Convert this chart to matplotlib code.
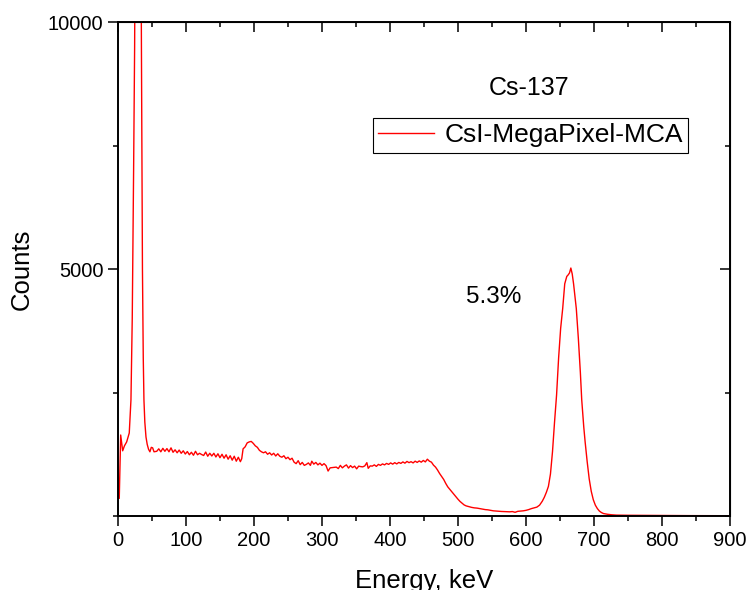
import matplotlib.pyplot as plt
from matplotlib.ticker import MultipleLocator

plt.rcParams['font.family'] = ['Liberation Sans', 'DejaVu Sans']

# spectrum (keV, counts)
energy = [1.9, 4.0, 6.9, 9.5, 12.8, 16.6, 19.1, 21, 23, 24.5, 26, 28, 30, 32, 33.5, 34.5,
          36, 37.2, 38.2, 39.5, 41.2, 43, 45, 47, 49, 51, 53,
          57, 60, 63, 66, 69, 72, 75, 78, 81, 84, 87, 90, 93, 96, 99, 102, 105, 108, 111,
          114, 117, 120, 123, 126, 129, 132, 135, 138, 141, 144, 147, 150, 153, 156, 159,
          162, 165, 168, 171, 174, 177, 180, 182, 184, 187, 190, 193, 196, 199, 202, 205,
          208, 211, 214, 217, 220, 223, 226, 229, 232, 235, 238, 241, 244, 247, 250, 253,
          256, 259, 262, 265, 268, 271, 274, 277, 280, 283, 285, 288, 291, 294, 297, 300,
          303, 306, 309, 312, 315, 318, 321, 324, 327, 330, 333, 336, 339, 342, 345, 348,
          351, 354, 357, 360, 363, 366, 368, 371, 374, 377, 380, 383, 386, 389, 392, 395,
          398, 401, 404, 407, 410, 413, 416, 419, 422, 425, 428, 431, 434, 437, 440, 443,
          446, 449, 452, 455, 458, 461, 464, 467, 470, 473, 476, 479, 482, 485, 488, 491,
          494, 497, 500, 503, 506, 509, 512, 516, 520, 524, 528, 532, 536, 540, 544, 548,
          552, 556, 560, 564, 568, 572, 576, 580, 584, 588, 592, 596, 600, 604, 608, 612,
          616, 620, 624, 627, 630, 633, 636, 639, 642, 645, 648, 651, 654, 657, 660, 662,
          664, 666, 668, 670, 672, 674, 677, 680, 682, 685, 687, 690, 693, 696, 699, 702,
          705, 708, 711, 714, 720, 726, 733, 750, 780, 810, 840, 870, 900]
counts = [360, 1640, 1320, 1420, 1500, 1680, 2350, 4000, 7000, 9500, 14000, 21000, 24000, 19000, 13000, 9500,
          5000, 3200, 2350, 1900, 1600, 1450, 1350, 1300, 1390, 1380, 1300,
          1310, 1360, 1300, 1370, 1310, 1365, 1300, 1380, 1290, 1340, 1280, 1335, 1270, 1320, 1255, 1305, 1240, 1290, 1230,
          1310, 1240, 1270, 1245, 1225, 1295, 1210, 1270, 1215, 1270, 1195, 1260, 1180, 1250, 1170, 1240,
          1150, 1220, 1130, 1210, 1110, 1190, 1100, 1160, 1360, 1400, 1480, 1500, 1510, 1470, 1420, 1390,
          1330, 1300, 1280, 1300, 1250, 1280, 1235, 1270, 1215, 1260, 1210, 1190, 1220, 1160, 1190, 1140,
          1170, 1090, 1060, 1120, 1040, 1085, 1025, 1045, 1075, 1025, 1110, 1050, 1085, 1035, 1070, 1025,
          1060, 1020, 910, 975, 980, 985, 990, 960, 1025, 975, 1010, 1035, 970, 1020, 980, 1010,
          955, 1010, 1000, 995, 1015, 1080, 965, 1015, 1010, 1035, 1005, 1045, 1025, 1055, 1035, 1065,
          1045, 1075, 1050, 1080, 1055, 1085, 1065, 1095, 1070, 1105, 1080, 1100, 1075, 1110, 1085, 1115,
          1090, 1125, 1095, 1150, 1110, 1090, 1030, 990, 930, 860, 800, 740, 660, 590, 540, 490,
          440, 390, 340, 295, 260, 225, 205, 190, 175, 165, 160, 150, 140, 130, 125, 115,
          105, 100, 95, 92, 90, 88, 85, 90, 75, 95, 100, 105, 115, 130, 150, 165,
          180, 220, 300, 380, 480, 600, 850, 1300, 1900, 2450, 3200, 3800, 4200, 4700, 4850, 4880,
          4920, 5020, 4900, 4700, 4450, 4200, 3600, 2900, 2350, 1800, 1500, 1100, 750, 500, 330, 220,
          150, 100, 70, 50, 35, 25, 18, 15, 12, 10, 8, 7, 6]

fig = plt.figure(figsize=(7.49, 5.90), dpi=100)
ax = fig.add_axes([0.1575, 0.1254, 0.8171, 0.8373])

ax.plot(energy, counts, color='red', linewidth=1, label='CsI-MegaPixel-MCA')

ax.set_xlim(0, 900)
ax.set_ylim(0, 10000)
ax.xaxis.set_major_locator(MultipleLocator(100))
ax.xaxis.set_minor_locator(MultipleLocator(50))
ax.set_yticks([5000, 10000])
ax.yaxis.set_minor_locator(MultipleLocator(2500))
ax.tick_params(which='major', direction='out', length=7, width=1.1, labelsize=14.5)
ax.tick_params(which='minor', direction='out', length=3.5, width=1.1)
for s in ax.spines.values():
    s.set_linewidth(1.4)

# mirrored ticks pointing inwards on top and right
top = ax.secondary_xaxis('top')
top.xaxis.set_major_locator(MultipleLocator(100))
top.xaxis.set_minor_locator(MultipleLocator(50))
top.tick_params(which='major', direction='in', length=7, width=1.1, labeltop=False)
top.tick_params(which='minor', direction='in', length=3.5, width=1.1)
right = ax.secondary_yaxis('right')
right.set_yticks([5000, 10000])
right.yaxis.set_minor_locator(MultipleLocator(2500))
right.tick_params(which='major', direction='in', length=7, width=1.1, labelright=False)
right.tick_params(which='minor', direction='in', length=3.5, width=1.1)

ax.set_xlabel('Energy, keV', fontsize=18.5, labelpad=14)
ax.set_ylabel('Counts', fontsize=18.5, labelpad=10)

fig.text(529/749, 1 - 88/590, 'Cs-137', fontsize=18, ha='center', va='center')
fig.text(494/749, 1 - 297/590, '5.3%', fontsize=17.5, ha='center', va='center')

leg = ax.legend(loc='upper left', bbox_to_anchor=(373/749, 1 - 118/590), bbox_transform=fig.transFigure,
                fontsize=19, handlelength=2.1, handletextpad=0.4, borderpad=0.2, borderaxespad=0,
                fancybox=False, edgecolor='black', framealpha=1)
leg.get_frame().set_linewidth(0.8)

plt.savefig('out.png', dpi=100)
